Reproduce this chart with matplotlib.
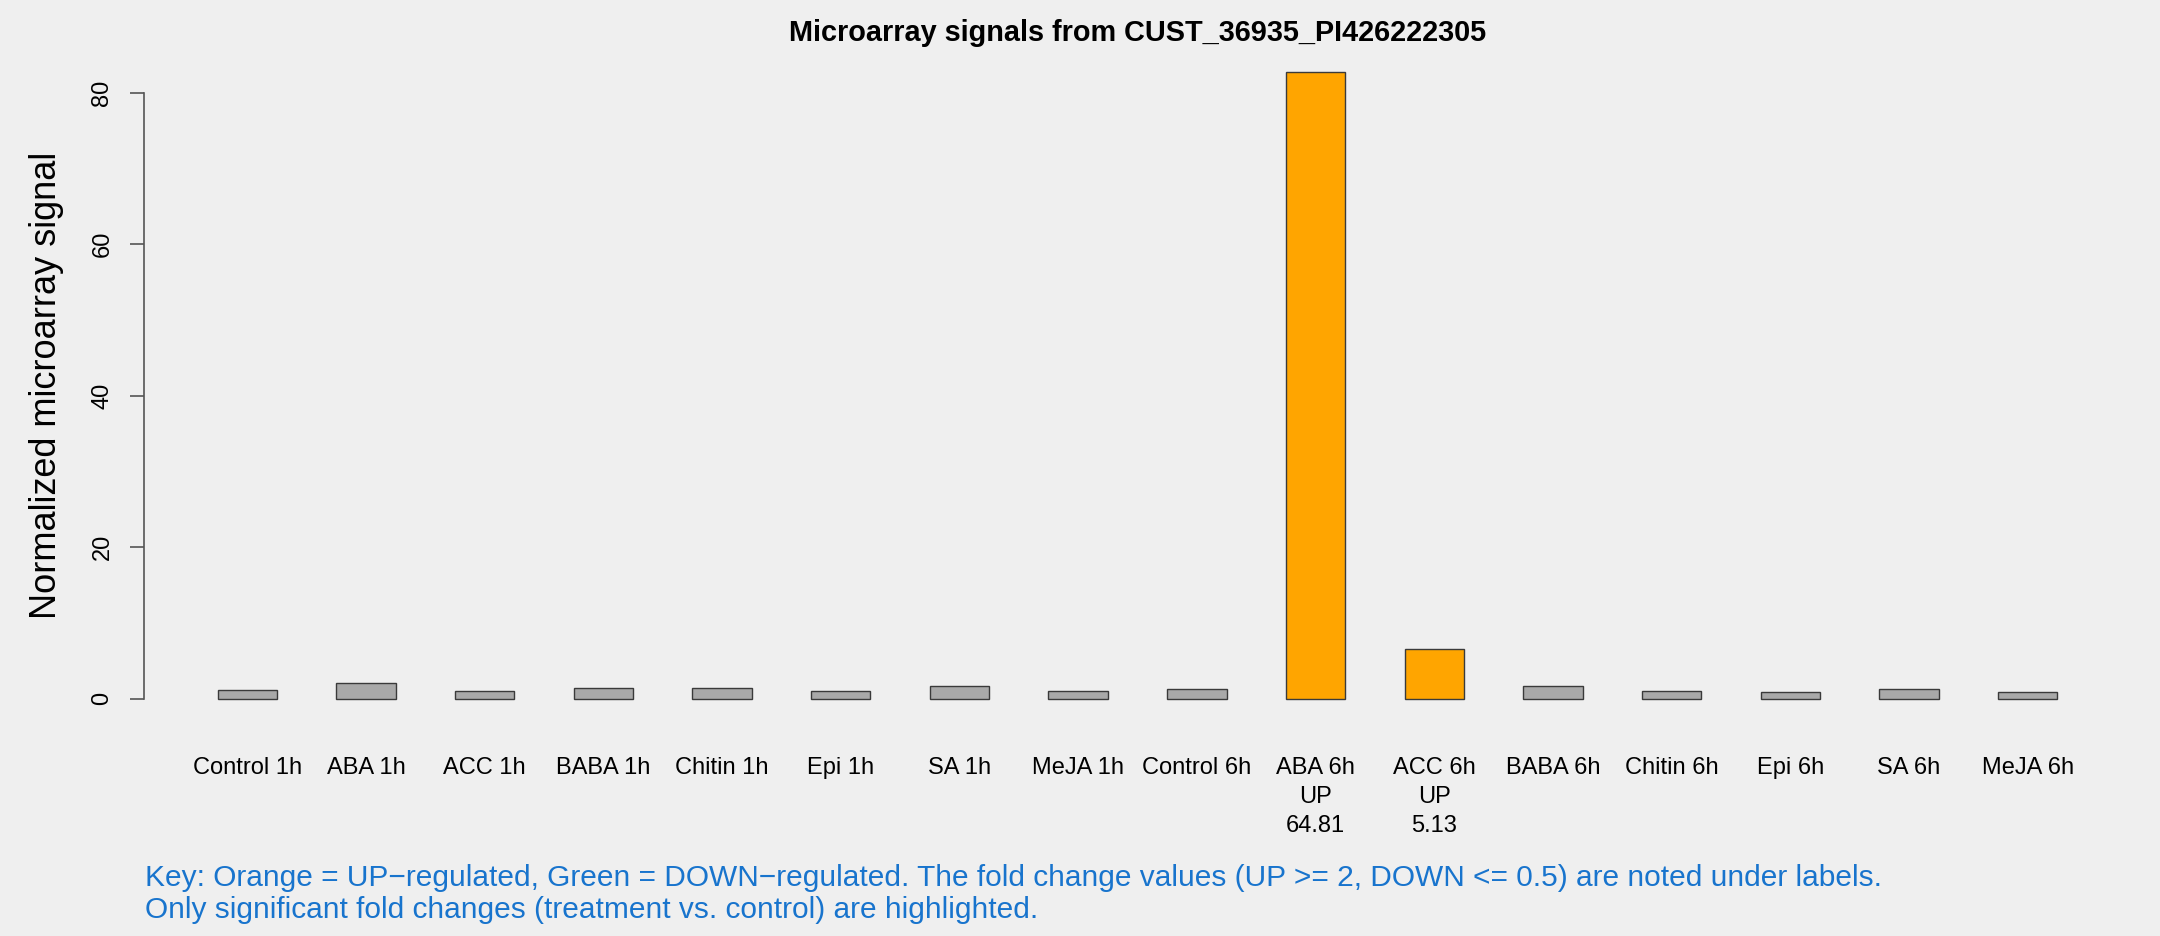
import numpy as np
import matplotlib.pyplot as plt

# conditions and normalized signals
labels = ['Control 1h', 'ABA 1h', 'ACC 1h', 'BABA 1h', 'Chitin 1h', 'Epi 1h', 'SA 1h', 'MeJA 1h',
          'Control 6h', 'ABA 6h', 'ACC 6h', 'BABA 6h', 'Chitin 6h', 'Epi 6h', 'SA 6h', 'MeJA 6h']
signal = [1.14, 2.1, 1.06, 1.45, 1.45, 1.05, 1.7, 1.05,
          1.28, 82.7, 6.55, 1.7, 1.05, 0.92, 1.3, 0.92]
regulation = ['', '', '', '', '', '', '', '',
              '', 'UP', 'UP', '', '', '', '', '']
fold_change = ['', '', '', '', '', '', '', '',
               '', '64.81', '5.13', '', '', '', '', '']

bg = '#efefef'
plt.rcParams['font.family'] = ['Liberation Sans', 'DejaVu Sans']

fig = plt.figure(figsize=(21.6, 9.36), dpi=100, facecolor=bg)
ax = fig.add_axes([144 / 2160, 1 - 724 / 936, (2131 - 144) / 2160, (724 - 47) / 936])
ax.set_facecolor(bg)

x = np.arange(len(labels)) * 2 + 1.5
colors = []
for r in regulation:
    if r == 'UP':
        colors.append('#ffa500')
    elif r == 'DOWN':
        colors.append('#00cd00')
    else:
        colors.append('#a9a9a9')

ax.bar(x, signal, width=1, color=colors, edgecolor='#3a3a3a', linewidth=1)

ymax = max(signal)
ax.set_xlim(1 - 0.04 * 31, 32 + 0.04 * 31)
ax.set_ylim(-0.04 * ymax, ymax * 1.04)

for s in ['top', 'right', 'bottom']:
    ax.spines[s].set_visible(False)
ax.spines['left'].set_bounds(0, 80)
ax.spines['left'].set_color('#555555')
ax.spines['left'].set_linewidth(1.2)
ax.set_yticks([0, 20, 40, 60, 80])
ax.set_yticklabels(['0', '20', '40', '60', '80'], rotation=90, va='center', fontsize=17)
ax.tick_params(axis='y', length=10, width=1.2, color='#555555', pad=12)

# condition labels with regulation and fold change below
tick_text = []
for i in range(len(labels)):
    t = labels[i]
    if regulation[i]:
        t = t + '\n' + regulation[i] + '\n' + fold_change[i]
    tick_text.append(t)
ax.set_xticks(x)
ax.set_xticklabels(tick_text, fontsize=17, linespacing=1.4)
ax.tick_params(axis='x', length=0, pad=24)

ax.set_ylabel('Normalized microarray signal', fontsize=26, labelpad=20)
ax.set_title('Microarray signals from CUST_36935_PI426222305', fontsize=20.8, fontweight='bold', pad=-4)

fig.text(145 / 2160, 1 - 878 / 936, 'Key: Orange = UP\u2212regulated, Green = DOWN\u2212regulated. '
         'The fold change values (UP >= 2, DOWN <= 0.5) are noted under labels.',
         color='#1874cd', fontsize=21.5, va='center')
fig.text(145 / 2160, 1 - 910 / 936, 'Only significant fold changes (treatment vs. control) are highlighted.',
         color='#1874cd', fontsize=21.5, va='center')

fig.savefig('out.png', dpi=100, facecolor=bg)
